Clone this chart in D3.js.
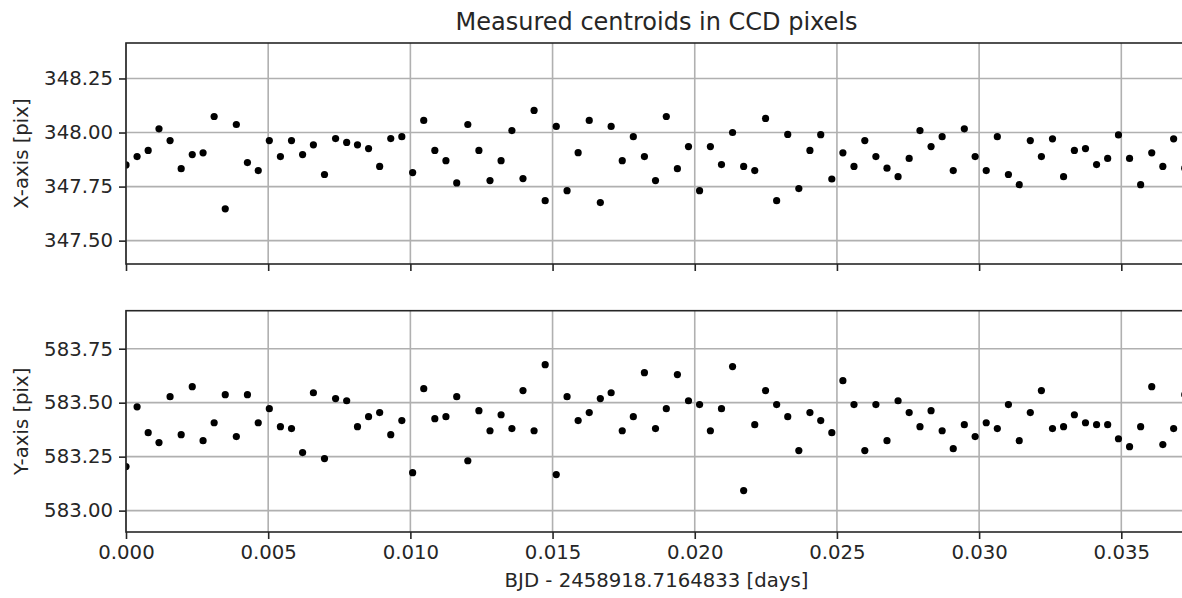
<!DOCTYPE html>
<html><head><meta charset="utf-8">
<script src="https://cdn.jsdelivr.net/npm/d3@7"></script>
<style>
html,body{margin:0;padding:0;background:#fff;}
svg{display:block;font-family:"DejaVu Sans",sans-serif;}
</style></head>
<body>
<svg id="chart" width="1182" height="598"></svg>
<script>
const timeDays = [0.00000,0.00039,0.00078,0.00116,0.00155,0.00194,0.00233,0.00271,0.00310,0.00349,
0.00388,0.00427,0.00465,0.00504,0.00543,0.00582,0.00621,0.00659,0.00698,0.00737,
0.00776,0.00814,0.00853,0.00892,0.00931,0.00970,0.01008,0.01047,0.01086,0.01125,
0.01163,0.01202,0.01241,0.01280,0.01319,0.01357,0.01396,0.01435,0.01474,0.01513,
0.01551,0.01590,0.01629,0.01668,0.01706,0.01745,0.01784,0.01823,0.01862,0.01900,
0.01939,0.01978,0.02017,0.02055,0.02094,0.02133,0.02172,0.02211,0.02249,0.02288,
0.02327,0.02366,0.02405,0.02443,0.02482,0.02521,0.02560,0.02598,0.02637,0.02676,
0.02715,0.02754,0.02792,0.02831,0.02870,0.02909,0.02948,0.02986,0.03025,0.03064,
0.03103,0.03141,0.03180,0.03219,0.03258,0.03297,0.03335,0.03374,0.03413,0.03452,
0.03490,0.03529,0.03568,0.03607,0.03646,0.03684,0.03723];

const centroidX = [347.850,347.889,347.917,348.017,347.963,347.833,347.898,347.906,348.074,347.647,
348.037,347.861,347.824,347.963,347.889,347.963,347.898,347.943,347.806,347.972,
347.954,347.943,347.926,347.843,347.972,347.981,347.815,348.056,347.917,347.870,
347.767,348.037,347.917,347.778,347.870,348.009,347.787,348.102,347.685,348.028,
347.731,347.907,348.056,347.676,348.028,347.870,347.981,347.889,347.778,348.074,
347.833,347.935,347.731,347.935,347.852,348.000,347.843,347.824,348.065,347.685,
347.991,347.741,347.917,347.990,347.785,347.906,347.843,347.963,347.889,347.835,
347.796,347.880,348.009,347.935,347.981,347.824,348.017,347.889,347.824,347.981,
347.806,347.759,347.963,347.889,347.971,347.796,347.917,347.926,347.852,347.880,
347.989,347.880,347.759,347.906,347.843,347.971,347.835];

const centroidY = [583.204,583.481,583.361,583.315,583.528,583.352,583.574,583.324,583.407,583.537,
583.343,583.537,583.407,583.472,583.389,583.380,583.269,583.546,583.241,583.519,
583.509,583.389,583.435,583.454,583.352,583.417,583.176,583.565,583.426,583.435,
583.528,583.231,583.463,583.370,583.444,583.380,583.556,583.370,583.676,583.167,
583.528,583.417,583.454,583.519,583.546,583.370,583.435,583.639,583.380,583.472,
583.630,583.509,583.491,583.370,583.472,583.667,583.093,583.398,583.556,583.491,
583.435,583.278,583.454,583.417,583.361,583.602,583.491,583.278,583.491,583.324,
583.509,583.454,583.389,583.463,583.370,583.287,583.398,583.343,583.407,583.380,
583.491,583.324,583.454,583.556,583.380,583.389,583.444,583.407,583.398,583.398,
583.333,583.296,583.389,583.574,583.306,583.380,583.537];

const xTicks = [0, 0.005, 0.010, 0.015, 0.020, 0.025, 0.030, 0.035];
const yTicksTop = [347.50, 347.75, 348.00, 348.25];
const yTicksBottom = [583.00, 583.25, 583.50, 583.75];

const titleText = "Measured centroids in CCD pixels";
const xLabel = "BJD - 2458918.7164833 [days]";
const yLabelTop = "X-axis [pix]";
const yLabelBottom = "Y-axis [pix]";

const svg = d3.select("#chart");
const left = 126, right = 1187;
const x = d3.scaleLinear().domain([0, 0.03731]).range([left, right]);

const panels = [
  {top: 43, bottom: 264, domain: [347.392, 348.414], ticks: yTicksTop, values: centroidX, label: yLabelTop, showX: false},
  {top: 310.7, bottom: 532, domain: [582.901, 583.926], ticks: yTicksBottom, values: centroidY, label: yLabelBottom, showX: true}
];

const textColor = "#262626";
const gridColor = "#b0b0b0";
const fs = "19.7px";

panels.forEach((p, k) => {
  const y = d3.scaleLinear().domain(p.domain).range([p.bottom, p.top]);
  const g = svg.append("g");
  const clipId = "clip" + k;
  svg.append("clipPath").attr("id", clipId).append("rect")
    .attr("x", left).attr("y", p.top).attr("width", right - left).attr("height", p.bottom - p.top);

  // grid
  g.append("g").selectAll("line").data(xTicks).join("line")
    .attr("x1", d => x(d)).attr("x2", d => x(d)).attr("y1", p.top).attr("y2", p.bottom)
    .attr("stroke", gridColor).attr("stroke-width", 1.6);
  g.append("g").selectAll("line").data(p.ticks).join("line")
    .attr("x1", left).attr("x2", right).attr("y1", d => y(d)).attr("y2", d => y(d))
    .attr("stroke", gridColor).attr("stroke-width", 1.6);

  // points
  g.append("g").attr("clip-path", `url(#${clipId})`)
    .selectAll("circle").data(timeDays).join("circle")
    .attr("cx", d => x(d)).attr("cy", (d, i) => y(p.values[i])).attr("r", 3.6)
    .attr("fill", "#000");

  // axes
  const ya = g.append("g").attr("transform", `translate(${left},0)`)
    .call(d3.axisLeft(y).tickValues(p.ticks).tickFormat(d3.format(".2f")).tickSize(7).tickPadding(6));
  ya.select(".domain").remove();
  ya.selectAll("line").attr("stroke", textColor).attr("stroke-width", 1.6);
  ya.selectAll("text").attr("fill", textColor).style("font-size", fs).style("font-family", "DejaVu Sans");

  const xa = g.append("g").attr("transform", `translate(0,${p.bottom})`)
    .call(d3.axisBottom(x).tickValues(xTicks).tickFormat(p.showX ? d3.format(".3f") : "").tickSize(7).tickPadding(6));
  xa.select(".domain").remove();
  xa.selectAll("line").attr("stroke", textColor).attr("stroke-width", 1.6);
  xa.selectAll("text").attr("fill", textColor).style("font-size", fs).style("font-family", "DejaVu Sans");

  // spines
  g.append("rect").attr("x", left).attr("y", p.top).attr("width", right - left).attr("height", p.bottom - p.top)
    .attr("fill", "none").attr("stroke", textColor).attr("stroke-width", 1.6);

  // y label
  svg.append("text")
    .attr("transform", `translate(21,${(p.top + p.bottom) / 2}) rotate(-90)`)
    .attr("text-anchor", "middle").attr("dominant-baseline", "central")
    .attr("fill", textColor).style("font-size", fs).text(p.label);
});

svg.append("text").attr("x", (left + right) / 2).attr("y", 30)
  .attr("text-anchor", "middle").attr("fill", textColor).style("font-size", "24px").text(titleText);

svg.append("text").attr("x", (left + right) / 2).attr("y", 587)
  .attr("text-anchor", "middle").attr("fill", textColor).style("font-size", fs).text(xLabel);
</script>
</body></html>
